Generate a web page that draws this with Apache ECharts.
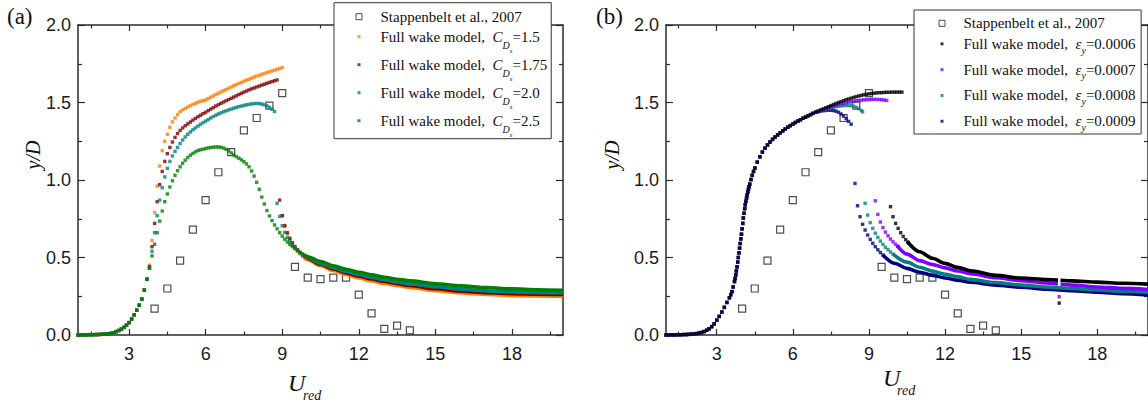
<!DOCTYPE html>
<html><head><meta charset="utf-8">
<script src="https://cdn.jsdelivr.net/npm/echarts@6/dist/echarts.min.js"></script>
<style>html,body{margin:0;padding:0;background:#fff}#c{width:1148px;height:404px}</style>
</head><body><div id="c"></div>
<script>
// ---------- tick labels ----------
const U_TICKS = [3, 6, 9, 12, 15, 18];
const U_MINOR = [1.5, 4.5, 7.5, 10.5, 13.5, 16.5, 19.5];

// ---------- experiment (Stappenbelt et al., 2007) ----------
const expU = [4, 4.5, 5, 5.5, 6, 6.5, 7, 7.5, 8, 8.5, 9, 9.5, 10, 10.5, 11, 11.5, 12, 12.5, 13, 13.5, 14];
const expV = [0.17, 0.30, 0.48, 0.68, 0.87, 1.05, 1.18, 1.32, 1.40, 1.48, 1.56, 0.44, 0.37, 0.36, 0.37, 0.37, 0.26, 0.14, 0.04, 0.06, 0.03];

// ---------- panel (a): common rise ----------
const riseA = [[1.0,0],[1.1,0.001],[1.2,0.001],[1.3,0.001],[1.4,0.002],[1.5,0.002],[1.6,0.002],[1.7,0.003],[1.8,0.003],[1.9,0.004],[2.0,0.005],[2.1,0.006],[2.2,0.008],[2.3,0.011],[2.4,0.015],[2.5,0.022],[2.6,0.029],[2.7,0.038],[2.8,0.049],[2.9,0.063],[3.0,0.080],[3.1,0.103],[3.2,0.130],[3.3,0.160],[3.4,0.192],[3.5,0.232],[3.6,0.290],[3.7,0.360]];

// C_Ds = 1.5
const cd15 = [[3.8,0.45],[3.9,0.61],[4.0,0.79],[4.1,0.96],[4.2,1.09],[4.3,1.19],[4.4,1.25],[4.5,1.295],[4.6,1.34],[4.7,1.375],[4.8,1.40],[4.9,1.422],[5.0,1.44],[5.1,1.452],[5.2,1.462],[5.3,1.471],[5.4,1.48],[5.5,1.488],[5.6,1.495],[5.7,1.502],[5.8,1.508],[5.9,1.512],[6.0,1.516],[6.1,1.525],[6.2,1.534],[6.3,1.543],[6.4,1.552],[6.5,1.56],[6.6,1.568],[6.7,1.576],[6.8,1.584],[6.9,1.592],[7.0,1.60],[7.1,1.608],[7.2,1.615],[7.3,1.623],[7.4,1.63],[7.5,1.637],[7.6,1.644],[7.7,1.65],[7.8,1.657],[7.9,1.664],[8.0,1.67],[8.1,1.676],[8.2,1.682],[8.3,1.687],[8.4,1.693],[8.5,1.698],[8.6,1.704],[8.7,1.709],[8.8,1.714],[8.9,1.72],[9.0,1.725],
  [9.0,0.77],[9.1,0.70],[9.2,0.652],[9.3,0.616],[9.4,0.587],[9.5,0.562],[9.6,0.541],[9.7,0.523],[9.8,0.507],[9.9,0.494]];
const cd15Tail = [[9.9,0.494],[10,0.486],[10.5,0.447],[11,0.416],[11.5,0.390],[12,0.368],[12.5,0.349],[13,0.333],[13.5,0.319],[14,0.307],[15,0.286],[16,0.271],[17,0.261],[18,0.255],[19,0.252],[20,0.250]];

// C_Ds = 1.75
const cd175 = [[3.8,0.44],[3.9,0.57],[4.0,0.72],[4.1,0.86],[4.2,0.97],[4.3,1.055],[4.4,1.12],[4.5,1.17],[4.6,1.21],[4.7,1.245],[4.8,1.275],[4.9,1.30],[5.0,1.32],[5.1,1.336],[5.2,1.35],[5.3,1.362],[5.4,1.374],[5.5,1.386],[5.6,1.397],[5.7,1.408],[5.8,1.418],[5.9,1.428],[6.0,1.437],[6.1,1.447],[6.2,1.457],[6.3,1.467],[6.4,1.477],[6.5,1.486],[6.6,1.495],[6.7,1.503],[6.8,1.511],[6.9,1.519],[7.0,1.527],[7.1,1.535],[7.2,1.543],[7.3,1.551],[7.4,1.559],[7.5,1.567],[7.6,1.574],[7.7,1.581],[7.8,1.588],[7.9,1.594],[8.0,1.60],[8.1,1.606],[8.2,1.612],[8.3,1.618],[8.4,1.624],[8.5,1.63],[8.6,1.635],[8.7,1.64],[8.8,1.645],
  [8.9,0.87],[9.0,0.77],[9.1,0.706],[9.2,0.66],[9.3,0.624],[9.4,0.595],[9.5,0.571],[9.6,0.55],[9.7,0.532],[9.8,0.516],[9.9,0.503]];
const cd175Tail = [[9.9,0.503],[10,0.494],[10.5,0.456],[11,0.426],[11.5,0.401],[12,0.380],[12.5,0.361],[13,0.345],[13.5,0.331],[14,0.319],[15,0.298],[16,0.283],[17,0.273],[18,0.267],[19,0.264],[20,0.262]];

// C_Ds = 2.0
const cd20 = [[3.8,0.43],[3.9,0.54],[4.0,0.66],[4.1,0.77],[4.2,0.87],[4.3,0.95],[4.4,1.02],[4.5,1.075],[4.6,1.12],[4.7,1.155],[4.8,1.185],[4.9,1.21],[5.0,1.235],[5.1,1.258],[5.2,1.278],[5.3,1.295],[5.4,1.31],[5.5,1.324],[5.6,1.336],[5.7,1.348],[5.8,1.36],[5.9,1.37],[6.0,1.38],[6.1,1.39],[6.2,1.40],[6.3,1.409],[6.4,1.418],[6.5,1.426],[6.6,1.433],[6.7,1.44],[6.8,1.446],[6.9,1.452],[7.0,1.458],[7.1,1.463],[7.2,1.468],[7.3,1.473],[7.4,1.477],[7.5,1.481],[7.6,1.485],[7.7,1.488],[7.8,1.491],[7.9,1.493],[8.0,1.494],[8.1,1.493],[8.2,1.49],[8.3,1.485],[8.4,1.478],[8.5,1.469],[8.6,1.457],[8.7,1.442],
  [8.8,0.85],[8.9,0.765],[9.0,0.705],[9.1,0.662],[9.2,0.628],[9.3,0.601],[9.4,0.579],[9.5,0.56],[9.6,0.544],[9.7,0.53],[9.8,0.518],[9.9,0.508]];
const cd20Tail = [[9.9,0.508],[10,0.500],[10.5,0.463],[11,0.434],[11.5,0.410],[12,0.390],[12.5,0.372],[13,0.356],[13.5,0.342],[14,0.330],[15,0.311],[16,0.296],[17,0.285],[18,0.278],[19,0.275],[20,0.273]];

// C_Ds = 2.5
const cd25 = [[3.8,0.43],[3.9,0.51],[4.0,0.585],[4.1,0.66],[4.2,0.735],[4.3,0.80],[4.4,0.86],[4.5,0.91],[4.6,0.955],[4.7,0.995],[4.8,1.03],[4.9,1.06],[5.0,1.085],[5.1,1.108],[5.2,1.128],[5.3,1.145],[5.4,1.16],[5.5,1.172],[5.6,1.182],[5.7,1.19],[5.8,1.195],[5.9,1.199],[6.0,1.203],[6.1,1.207],[6.2,1.21],[6.3,1.212],[6.4,1.213],[6.5,1.213],[6.6,1.211],[6.7,1.206],[6.8,1.198],[6.9,1.188],[7.0,1.175],[7.1,1.162],[7.2,1.151],[7.3,1.141],[7.4,1.13],[7.5,1.118],[7.6,1.104],[7.7,1.085],[7.8,1.058],[7.9,1.025],[8.0,0.985],[8.1,0.94],[8.2,0.89],[8.3,0.845],[8.4,0.803],[8.5,0.768],[8.6,0.738],[8.7,0.71],[8.8,0.685],[8.9,0.66],[9.0,0.638],[9.1,0.618],[9.2,0.60],[9.3,0.584],[9.4,0.57],[9.5,0.557],[9.6,0.545],[9.7,0.534],[9.8,0.524],[9.9,0.514]];
const cd25Tail = [[9.9,0.514],[10,0.505],[10.5,0.474],[11,0.447],[11.5,0.424],[12,0.405],[12.5,0.388],[13,0.373],[13.5,0.360],[14,0.349],[15,0.331],[16,0.317],[17,0.306],[18,0.298],[19,0.292],[20,0.288]];

// ---------- panel (b): common rise ----------
const riseB = [[1.0,0],[1.1,0],[1.2,0.001],[1.3,0.001],[1.4,0.001],[1.5,0.002],[1.6,0.002],[1.7,0.003],[1.8,0.003],[1.9,0.004],[2.0,0.005],[2.1,0.007],[2.2,0.009],[2.3,0.012],[2.4,0.016],[2.5,0.022],[2.6,0.030],[2.7,0.040],[2.8,0.054],[2.9,0.072],[3.0,0.095],[3.1,0.12],[3.2,0.148],[3.3,0.178],[3.4,0.21],[3.5,0.24],[3.55,0.26],[3.6,0.28],[3.65,0.31],[3.7,0.345],[3.725,0.365],[3.75,0.388],[3.775,0.413],[3.8,0.44],[3.825,0.47],[3.85,0.50],[3.875,0.53],[3.9,0.56],[3.925,0.59],[3.95,0.62],[3.975,0.65],[4.0,0.685],[4.025,0.72],[4.05,0.755],[4.075,0.785],[4.1,0.815],[4.125,0.84],[4.15,0.862],[4.175,0.883],[4.2,0.903],[4.225,0.922],[4.25,0.94],[4.275,0.957],[4.3,0.973],[4.35,1.003],[4.4,1.03],[4.45,1.055],[4.5,1.077],[4.6,1.115],[4.7,1.15],[4.8,1.18],[4.9,1.205],[5.0,1.226],[5.1,1.245],[5.2,1.262],[5.3,1.277],[5.4,1.291],[5.5,1.304],[5.6,1.317],[5.7,1.329],[5.8,1.34],[5.9,1.351],[6.0,1.361],[6.1,1.371],[6.2,1.38],[6.3,1.389],[6.4,1.398],[6.5,1.406],[6.6,1.414],[6.7,1.422],[6.8,1.43],[6.9,1.437]];

// eps_y = 0.0006
const ey6 = [[7.0,1.445],[7.1,1.452],[7.2,1.459],[7.3,1.466],[7.4,1.473],[7.5,1.48],[7.6,1.487],[7.7,1.494],[7.8,1.50],[7.9,1.506],[8.0,1.512],[8.1,1.518],[8.2,1.523],[8.3,1.528],[8.4,1.533],[8.5,1.538],[8.6,1.542],[8.7,1.546],[8.8,1.55],[8.9,1.553],[9.0,1.556],[9.1,1.558],[9.2,1.56],[9.3,1.562],[9.4,1.563],[9.5,1.564],[9.6,1.565],[9.7,1.566],[9.8,1.566],[9.9,1.567],[10.0,1.567],[10.1,1.567],[10.2,1.567],[10.3,1.567],
  [9.85,0.828],[9.95,0.763],[10.05,0.72],[10.15,0.688],[10.25,0.66],[10.35,0.636],[10.45,0.615],[10.55,0.596],[16.5,0.206]];
const ey6Tail = [[10.5,0.605],[11,0.537],[11.5,0.495],[12,0.462],[12.5,0.436],[13,0.415],[14,0.385],[15,0.367],[16,0.358],[16.45,0.354],[16.5,'-'],[16.55,0.353],[17,0.349],[18,0.341],[19,0.334],[20,0.328]];

// eps_y = 0.0007
const ey7 = [[7.0,1.443],[7.1,1.449],[7.2,1.455],[7.3,1.461],[7.4,1.467],[7.5,1.472],[7.6,1.477],[7.7,1.482],[7.8,1.487],[7.9,1.491],[8.0,1.495],[8.1,1.499],[8.2,1.502],[8.3,1.505],[8.4,1.508],[8.5,1.511],[8.6,1.513],[8.7,1.515],[8.8,1.517],[8.9,1.518],[9.0,1.519],[9.1,1.52],[9.2,1.52],[9.3,1.52],[9.4,1.519],[9.5,1.518],[9.6,1.516],[9.7,1.513],
  [9.25,0.866],[9.35,0.778],[9.45,0.729],[9.55,0.693],[9.65,0.664],[9.75,0.64],[9.85,0.619],[9.95,0.601],[10.05,0.585],[10.15,0.571],[16.5,0.247]];
const ey7Tail = [[10.1,0.578],[10.5,0.522],[11,0.48],[11.5,0.455],[12,0.433],[12.5,0.413],[13,0.396],[14,0.37],[15,0.351],[16,0.336],[16.45,0.33],[16.5,'-'],[16.55,0.329],[17,0.322],[18,0.31],[19,0.301],[20,0.294]];

// eps_y = 0.0008
const ey8 = [[7.0,1.441],[7.1,1.446],[7.2,1.451],[7.3,1.456],[7.4,1.461],[7.5,1.465],[7.6,1.469],[7.7,1.473],[7.8,1.476],[7.9,1.478],[8.0,1.48],[8.1,1.481],[8.2,1.481],[8.3,1.479],[8.4,1.475],[8.5,1.469],[8.6,1.46],[8.7,1.448],[8.75,1.44],
  [8.85,0.85],[8.95,0.774],[9.05,0.725],[9.15,0.688],[9.25,0.657],[9.35,0.63],[9.45,0.606],[9.55,0.585],[9.65,0.566],[9.75,0.55],[9.85,0.535],[9.95,0.522]];
const ey8Tail = [[9.95,0.522],[10.5,0.47],[11,0.437],[11.5,0.412],[12,0.392],[12.5,0.375],[13,0.359],[14,0.339],[15,0.323],[16,0.31],[17,0.3],[18,0.291],[19,0.282],[20,0.275]];

// eps_y = 0.0009
const ey9 = [[7.0,1.44],[7.1,1.444],[7.2,1.447],[7.3,1.449],[7.4,1.45],[7.5,1.45],[7.6,1.448],[7.7,1.444],[7.8,1.437],[7.9,1.426],[8.0,1.412],[8.1,1.396],[8.2,1.378],[8.3,1.36],
  [8.45,0.978],[8.55,0.834],[8.65,0.763],[8.75,0.714],[8.85,0.677],[8.95,0.645],[9.05,0.617],[9.15,0.592],[9.25,0.57],[9.35,0.55],[9.45,0.532],[9.55,0.516]];
const ey9Tail = [[9.55,0.516],[10,0.463],[10.5,0.43],[11,0.405],[11.5,0.385],[12,0.368],[12.5,0.353],[13,0.34],[14,0.322],[15,0.308],[16,0.296],[17,0.286],[18,0.276],[19,0.266],[20,0.258]];

// ---------- names ----------
const EXP = 'Stappenbelt et al., 2007';
const NAMES_A = ['CDs=1.5', 'CDs=1.75', 'CDs=2.0', 'CDs=2.5'];
const VALS_A = ['1.5', '1.75', '2.0', '2.5'];
const NAMES_B = ['ey=0.0006', 'ey=0.0007', 'ey=0.0008', 'ey=0.0009'];
const VALS_B = ['0.0006', '0.0007', '0.0008', '0.0009'];

// ---------- styling ----------
const FRAME = '#2b2b2b';
const SANS = '"Liberation Sans", Arial, sans-serif';
const SERIF = '"Liberation Serif", "Times New Roman", serif';
const COL_A = ['#FF8000', '#800000', '#008080', '#008000'];
const COL_B = ['#000000', '#8000FF', '#008080', '#000080'];

const expData = expU.map((u, i) => [u, expV[i]]);

function mainX(gridIndex, pos) {
  return { type: 'value', gridIndex, position: pos, min: 1, max: 20,
    axisLine: { show: true, onZero: false, lineStyle: { color: FRAME, width: 1.5 } },
    axisTick: { show: true, inside: true, length: 6, customValues: U_TICKS, lineStyle: { color: FRAME, width: 1.2 } },
    axisLabel: { show: pos === 'bottom', customValues: U_TICKS, margin: 10, fontFamily: SANS, fontSize: 18, color: '#1a1a1a' },
    splitLine: { show: false } };
}
function minorX(gridIndex, pos) {
  return { type: 'value', gridIndex, position: pos, min: 1, max: 20,
    axisLine: { show: false },
    axisTick: { show: true, inside: true, length: 3.5, customValues: U_MINOR, lineStyle: { color: FRAME, width: 1.2 } },
    axisLabel: { show: false }, splitLine: { show: false } };
}
function mainY(gridIndex, pos) {
  return { type: 'value', gridIndex, position: pos, min: 0, max: 2, interval: 0.5,
    axisLine: { show: true, onZero: false, lineStyle: { color: FRAME, width: 1.5 } },
    axisTick: { show: true, inside: true, length: 7, lineStyle: { color: FRAME, width: 1.2 } },
    minorTick: { show: true, splitNumber: 2, length: 4, lineStyle: { color: FRAME, width: 1.2 } },
    axisLabel: { show: pos === 'left', margin: 7, fontFamily: SANS, fontSize: 18, color: '#1a1a1a', formatter: v => v.toFixed(1) },
    splitLine: { show: false }, minorSplitLine: { show: false } };
}
function hiddenY(gridIndex) { return { type: 'value', gridIndex, min: 0, max: 2, show: false }; }

function expSeries(xi, yi) {
  return { type: 'scatter', name: EXP, data: expData, xAxisIndex: xi, yAxisIndex: yi,
    symbol: 'rect', symbolSize: 7, itemStyle: { color: '#fff', borderColor: '#222', borderWidth: 1.2 },
    silent: true, z: 2 };
}
function dots(name, data, color, xi, yi) {
  return { type: 'scatter', name, data, xAxisIndex: xi, yAxisIndex: yi, symbol: 'rect', symbolSize: 3.4,
    itemStyle: { color }, silent: true, z: 3 };
}
function band(name, data, color, xi, yi) {
  return { type: 'line', name, data, xAxisIndex: xi, yAxisIndex: yi, showSymbol: false, symbol: 'none',
    smooth: 0.3, smoothMonotone: 'x', connectNulls: false,
    lineStyle: { color, width: 3.6 }, itemStyle: { color }, silent: true, z: 3 };
}

const ICON_SMALL = 'path://M0,0M33,7M15,2h3v3h-3z';
const ICON_EXP = 'path://M0,0M33,7M13.5,0.5h6v6h-6z';

const seriesA = [expSeries(0, 0)];
const bodiesA = [cd15, cd175, cd20, cd25];
const tailsA = [cd15Tail, cd175Tail, cd20Tail, cd25Tail];
NAMES_A.forEach((n, i) => {
  seriesA.push(dots(n, riseA.concat(bodiesA[i]), COL_A[i], 0, 0));
  seriesA.push(band(n, tailsA[i], COL_A[i], 0, 0));
});

const seriesB = [expSeries(4, 3)];
const bodiesB = [ey6, ey7, ey8, ey9];
const tailsB = [ey6Tail, ey7Tail, ey8Tail, ey9Tail];
// draw order: 0.0009 first, 0.0006 last (on top)
[3, 2, 1, 0].forEach(i => {
  seriesB.push(dots(NAMES_B[i], riseB.concat(bodiesB[i]), COL_B[i], 4, 3));
  seriesB.push(band(NAMES_B[i], tailsB[i], COL_B[i], 4, 3));
});

const legendA = {
  orient: 'vertical', left: 334, top: 2.7, padding: [4, 4, 0, 8], itemGap: -8,
  itemWidth: 33, itemHeight: 7, selectedMode: false,
  borderColor: '#333', borderWidth: 1, backgroundColor: '#fff',
  data: [{ name: EXP, icon: ICON_EXP, itemStyle: { borderWidth: 1 } }].concat(NAMES_A.map(n => ({ name: n, icon: ICON_SMALL }))),
  formatter: name => name === EXP ? '{st|' + name + '}' :
    '{t|Full wake model,  }{i|C}{d|D}{s|s}{t|=' + VALS_A[NAMES_A.indexOf(name)] + '}',
  textStyle: { color: '#111', fontFamily: SERIF, fontSize: 15,
    rich: {
      st: { fontFamily: SERIF, fontSize: 15, lineHeight: 20, padding: [2.5, 0, 2.5, 0], color: '#111' },
      t: { fontFamily: SERIF, fontSize: 15, lineHeight: 20, color: '#111' },
      i: { fontFamily: SERIF, fontStyle: 'italic', fontSize: 15, lineHeight: 20, color: '#111' },
      d: { fontFamily: SERIF, fontStyle: 'italic', fontSize: 10, lineHeight: 10, padding: [17.5, 0, 0, 0], color: '#111' },
      s: { fontFamily: SERIF, fontStyle: 'italic', fontSize: 7, lineHeight: 7, padding: [29, 0, 0, 0], color: '#111' }
    } }
};
const legendB = {
  orient: 'vertical', left: 914, top: 10, padding: [5.8, 5.5, 0, 11], itemGap: 0.3,
  itemWidth: 33, itemHeight: 7, selectedMode: false,
  borderColor: '#333', borderWidth: 1, backgroundColor: '#fff',
  data: [{ name: EXP, icon: ICON_EXP, itemStyle: { borderWidth: 1 } }].concat(NAMES_B.map(n => ({ name: n, icon: ICON_SMALL }))),
  formatter: name => name === EXP ? '{st|' + name + '}' :
    '{t|Full wake model,  }{i|ε}{y|y}{t|=' + VALS_B[NAMES_B.indexOf(name)] + '}',
  textStyle: { color: '#111', fontFamily: SERIF, fontSize: 15,
    rich: {
      st: { fontFamily: SERIF, fontSize: 15, lineHeight: 18, color: '#111' },
      t: { fontFamily: SERIF, fontSize: 15, lineHeight: 18, color: '#111' },
      i: { fontFamily: SERIF, fontStyle: 'italic', fontSize: 15, lineHeight: 18, color: '#111' },
      y: { fontFamily: SERIF, fontStyle: 'italic', fontSize: 10, lineHeight: 10, padding: [14, 0, 1.5, 0], color: '#111' }
    } }
};

const chart = echarts.init(document.getElementById('c'), null, { renderer: 'svg' });
chart.setOption({
  animation: false,
  backgroundColor: '#fff',
  grid: [
    { left: 78, top: 25, width: 485, height: 310 },
    { left: 78, top: 25, width: 485, height: 310 },
    { left: 666, top: 25, width: 484.5, height: 310 },
    { left: 666, top: 25, width: 484.5, height: 310 }
  ],
  xAxis: [mainX(0, 'bottom'), mainX(0, 'top'), minorX(1, 'bottom'), minorX(1, 'top'),
          mainX(2, 'bottom'), mainX(2, 'top'), minorX(3, 'bottom'), minorX(3, 'top')],
  yAxis: [mainY(0, 'left'), mainY(0, 'right'), hiddenY(1),
          mainY(2, 'left'), mainY(2, 'right'), hiddenY(3)],
  legend: [legendA, legendB],
  series: seriesA.concat(seriesB),
  graphic: [
    { type: 'text', x: 7, y: 16, style: { text: '(a)', font: '23px ' + SERIF, fill: '#111', align: 'left', verticalAlign: 'middle' } },
    { type: 'text', x: 596, y: 16, style: { text: '(b)', font: '23px ' + SERIF, fill: '#111', align: 'left', verticalAlign: 'middle' } },
    { type: 'text', x: 33, y: 155, rotation: Math.PI / 2, style: { text: 'y/D', font: 'italic 20px ' + SERIF, fill: '#111', align: 'center', verticalAlign: 'middle' } },
    { type: 'text', x: 612, y: 155, rotation: Math.PI / 2, style: { text: 'y/D', font: 'italic 20px ' + SERIF, fill: '#111', align: 'center', verticalAlign: 'middle' } },
    { type: 'text', x: 288, y: 383, style: { text: 'U', font: 'italic 24px ' + SERIF, fill: '#111', align: 'left', verticalAlign: 'middle' } },
    { type: 'text', x: 303, y: 395.5, style: { text: 'red', font: 'italic 14px ' + SERIF, fill: '#111', align: 'left', verticalAlign: 'middle' } },
    { type: 'text', x: 883, y: 377.5, style: { text: 'U', font: 'italic 24px ' + SERIF, fill: '#111', align: 'left', verticalAlign: 'middle' } },
    { type: 'text', x: 897, y: 390.5, style: { text: 'red', font: 'italic 14px ' + SERIF, fill: '#111', align: 'left', verticalAlign: 'middle' } }
  ]
});
</script></body></html>
